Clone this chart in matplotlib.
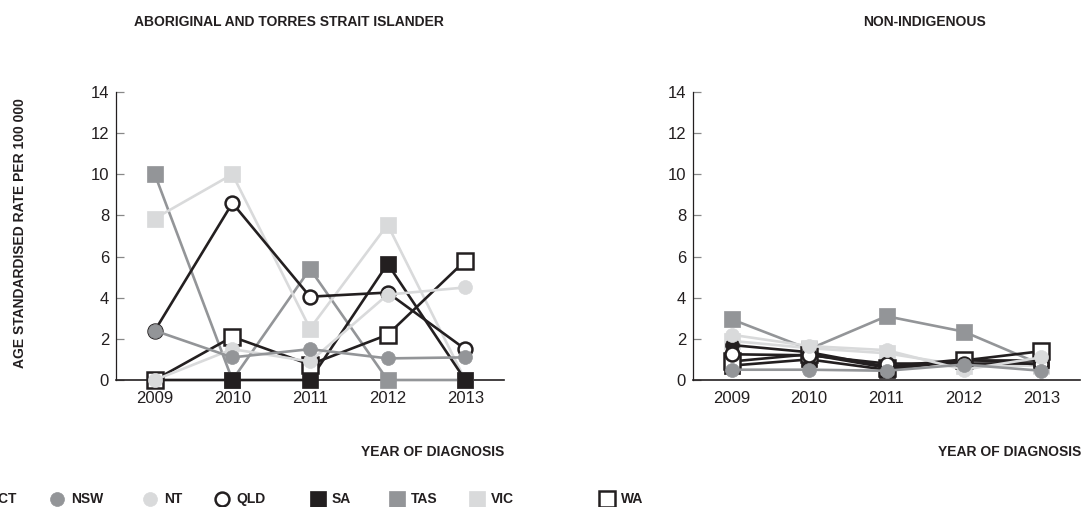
import numpy as np
import matplotlib
matplotlib.use("Agg")
import matplotlib.pyplot as plt

plt.rcParams['font.family'] = ['Liberation Sans', 'DejaVu Sans']

years = ['2009', '2010', '2011', '2012', '2013']
states = ['ACT', 'NSW', 'NT', 'QLD', 'SA', 'TAS', 'VIC', 'WA']

# Aboriginal and Torres Strait Islander rates (ACT has no data)
atsi_act = [np.nan, np.nan, np.nan, np.nan, np.nan]
atsi_nsw = [2.4, 1.1, 1.5, 1.05, 1.1]
atsi_nt = [0.0, 1.5, 0.9, 4.15, 4.5]
atsi_qld = [2.4, 8.6, 4.05, 4.25, 1.5]
atsi_sa = [0.0, 0.0, 0.0, 5.65, 0.0]
atsi_tas = [10.0, 0.0, 5.4, 0.0, 0.0]
atsi_vic = [7.85, 10.0, 2.5, 7.55, 0.0]
atsi_wa = [0.0, 2.1, 0.75, 2.2, 5.8]

# Non-Indigenous rates
non_act = [1.7, 1.35, 0.65, 1.0, 0.75]
non_nsw = [0.5, 0.5, 0.45, 0.75, 0.45]
non_nt = [2.2, 1.65, 1.45, 0.5, 1.1]
non_qld = [1.25, 1.2, 0.8, 0.8, 0.8]
non_sa = [0.7, 1.0, 0.5, 0.95, 0.95]
non_tas = [2.95, 1.5, 3.1, 2.35, 0.75]
non_vic = [1.9, 1.55, 1.3, 0.7, 0.7]
non_wa = [0.9, 1.25, 0.6, 0.95, 1.4]

atsi = [atsi_act, atsi_nsw, atsi_nt, atsi_qld, atsi_sa, atsi_tas, atsi_vic, atsi_wa]
non_ind = [non_act, non_nsw, non_nt, non_qld, non_sa, non_tas, non_vic, non_wa]

BLACK = '#231f20'
MID = '#939598'
LIGHT = '#d9dadb'
WHITE = '#ffffff'

# marker, line colour, face colour, draw order
styles = {
    'ACT': ('o', BLACK, BLACK, 3),
    'NSW': ('o', MID, MID, 8),
    'NT': ('o', LIGHT, LIGHT, 7),
    'QLD': ('o', BLACK, WHITE, 6),
    'SA': ('s', BLACK, BLACK, 4),
    'TAS': ('s', MID, MID, 1),
    'VIC': ('s', LIGHT, LIGHT, 2),
    'WA': ('s', BLACK, WHITE, 5),
}

W, H = 1085, 507
fig = plt.figure(figsize=(W / 100, H / 100), dpi=100)


def px_axes(x0, x1, y_top, y_bot):
    return [x0 / W, 1 - y_bot / H, (x1 - x0) / W, (y_bot - y_top) / H]


def marker_kw(name):
    mk, lc, fc, z = styles[name]
    return dict(marker=mk, ms=11 if mk == 's' else 10, markerfacecolor=fc,
                markeredgecolor=BLACK if fc == WHITE else lc,
                markeredgewidth=1.8 if fc == WHITE else 0.5)


def draw_panel(ax, series):
    x = np.arange(len(years))
    for name, vals in zip(states, series):
        mk, lc, fc, z = styles[name]
        ax.plot(x, vals, color=lc, lw=1.9, zorder=10 + z, clip_on=False,
                **marker_kw(name))
    ax.set_xlim(-0.5, len(years) - 0.5)
    ax.set_ylim(0, 14)
    ax.set_yticks(range(0, 15, 2))
    ax.set_xticks(x)
    ax.set_xticklabels(years)
    for s in ['top', 'right']:
        ax.spines[s].set_visible(False)
    ax.spines['left'].set_color(BLACK)
    ax.spines['left'].set_linewidth(0.9)
    ax.spines['bottom'].set_color(BLACK)
    ax.spines['bottom'].set_linewidth(1.2)
    ax.tick_params(axis='y', direction='in', length=6, width=0.9,
                   color='#888888', labelsize=12, labelcolor=BLACK, pad=5)
    ax.tick_params(axis='x', length=0, labelsize=12, labelcolor=BLACK, pad=8)


ax1 = fig.add_axes(px_axes(116, 504, 92, 380))
draw_panel(ax1, atsi)
ax2 = fig.add_axes(px_axes(693, 1080, 92, 380))
draw_panel(ax2, non_ind)

bold = dict(fontsize=10, fontweight='bold', color=BLACK)
fig.text(289 / W, 1 - 22 / H, 'ABORIGINAL AND TORRES STRAIT ISLANDER',
         ha='center', va='center', **bold)
fig.text(925 / W, 1 - 22 / H, 'NON-INDIGENOUS', ha='center', va='center', **bold)
fig.text(20 / W, 1 - 233 / H, 'AGE STANDARDISED RATE PER 100 000',
         rotation=90, ha='center', va='center', **bold)
fig.text(504 / W, 1 - 452 / H, 'YEAR OF DIAGNOSIS', ha='right', va='center', **bold)
fig.text(1081 / W, 1 - 452 / H, 'YEAR OF DIAGNOSIS', ha='right', va='center', **bold)

# legend strip along the bottom, laid out in pixel coordinates
leg = fig.add_axes([0, 0, 1, 1], zorder=-1)
leg.set_xlim(0, W)
leg.set_ylim(H, 0)
leg.axis('off')
leg_x = [-25, 57, 150, 222, 318, 397, 477, 607]
leg_y = 499
for name, lx in zip(states, leg_x):
    leg.plot([lx], [leg_y], ls='none', clip_on=False, **marker_kw(name))
    leg.text(lx + 14, leg_y, name, ha='left', va='center', **bold)

fig.savefig('out.png', dpi=100)
